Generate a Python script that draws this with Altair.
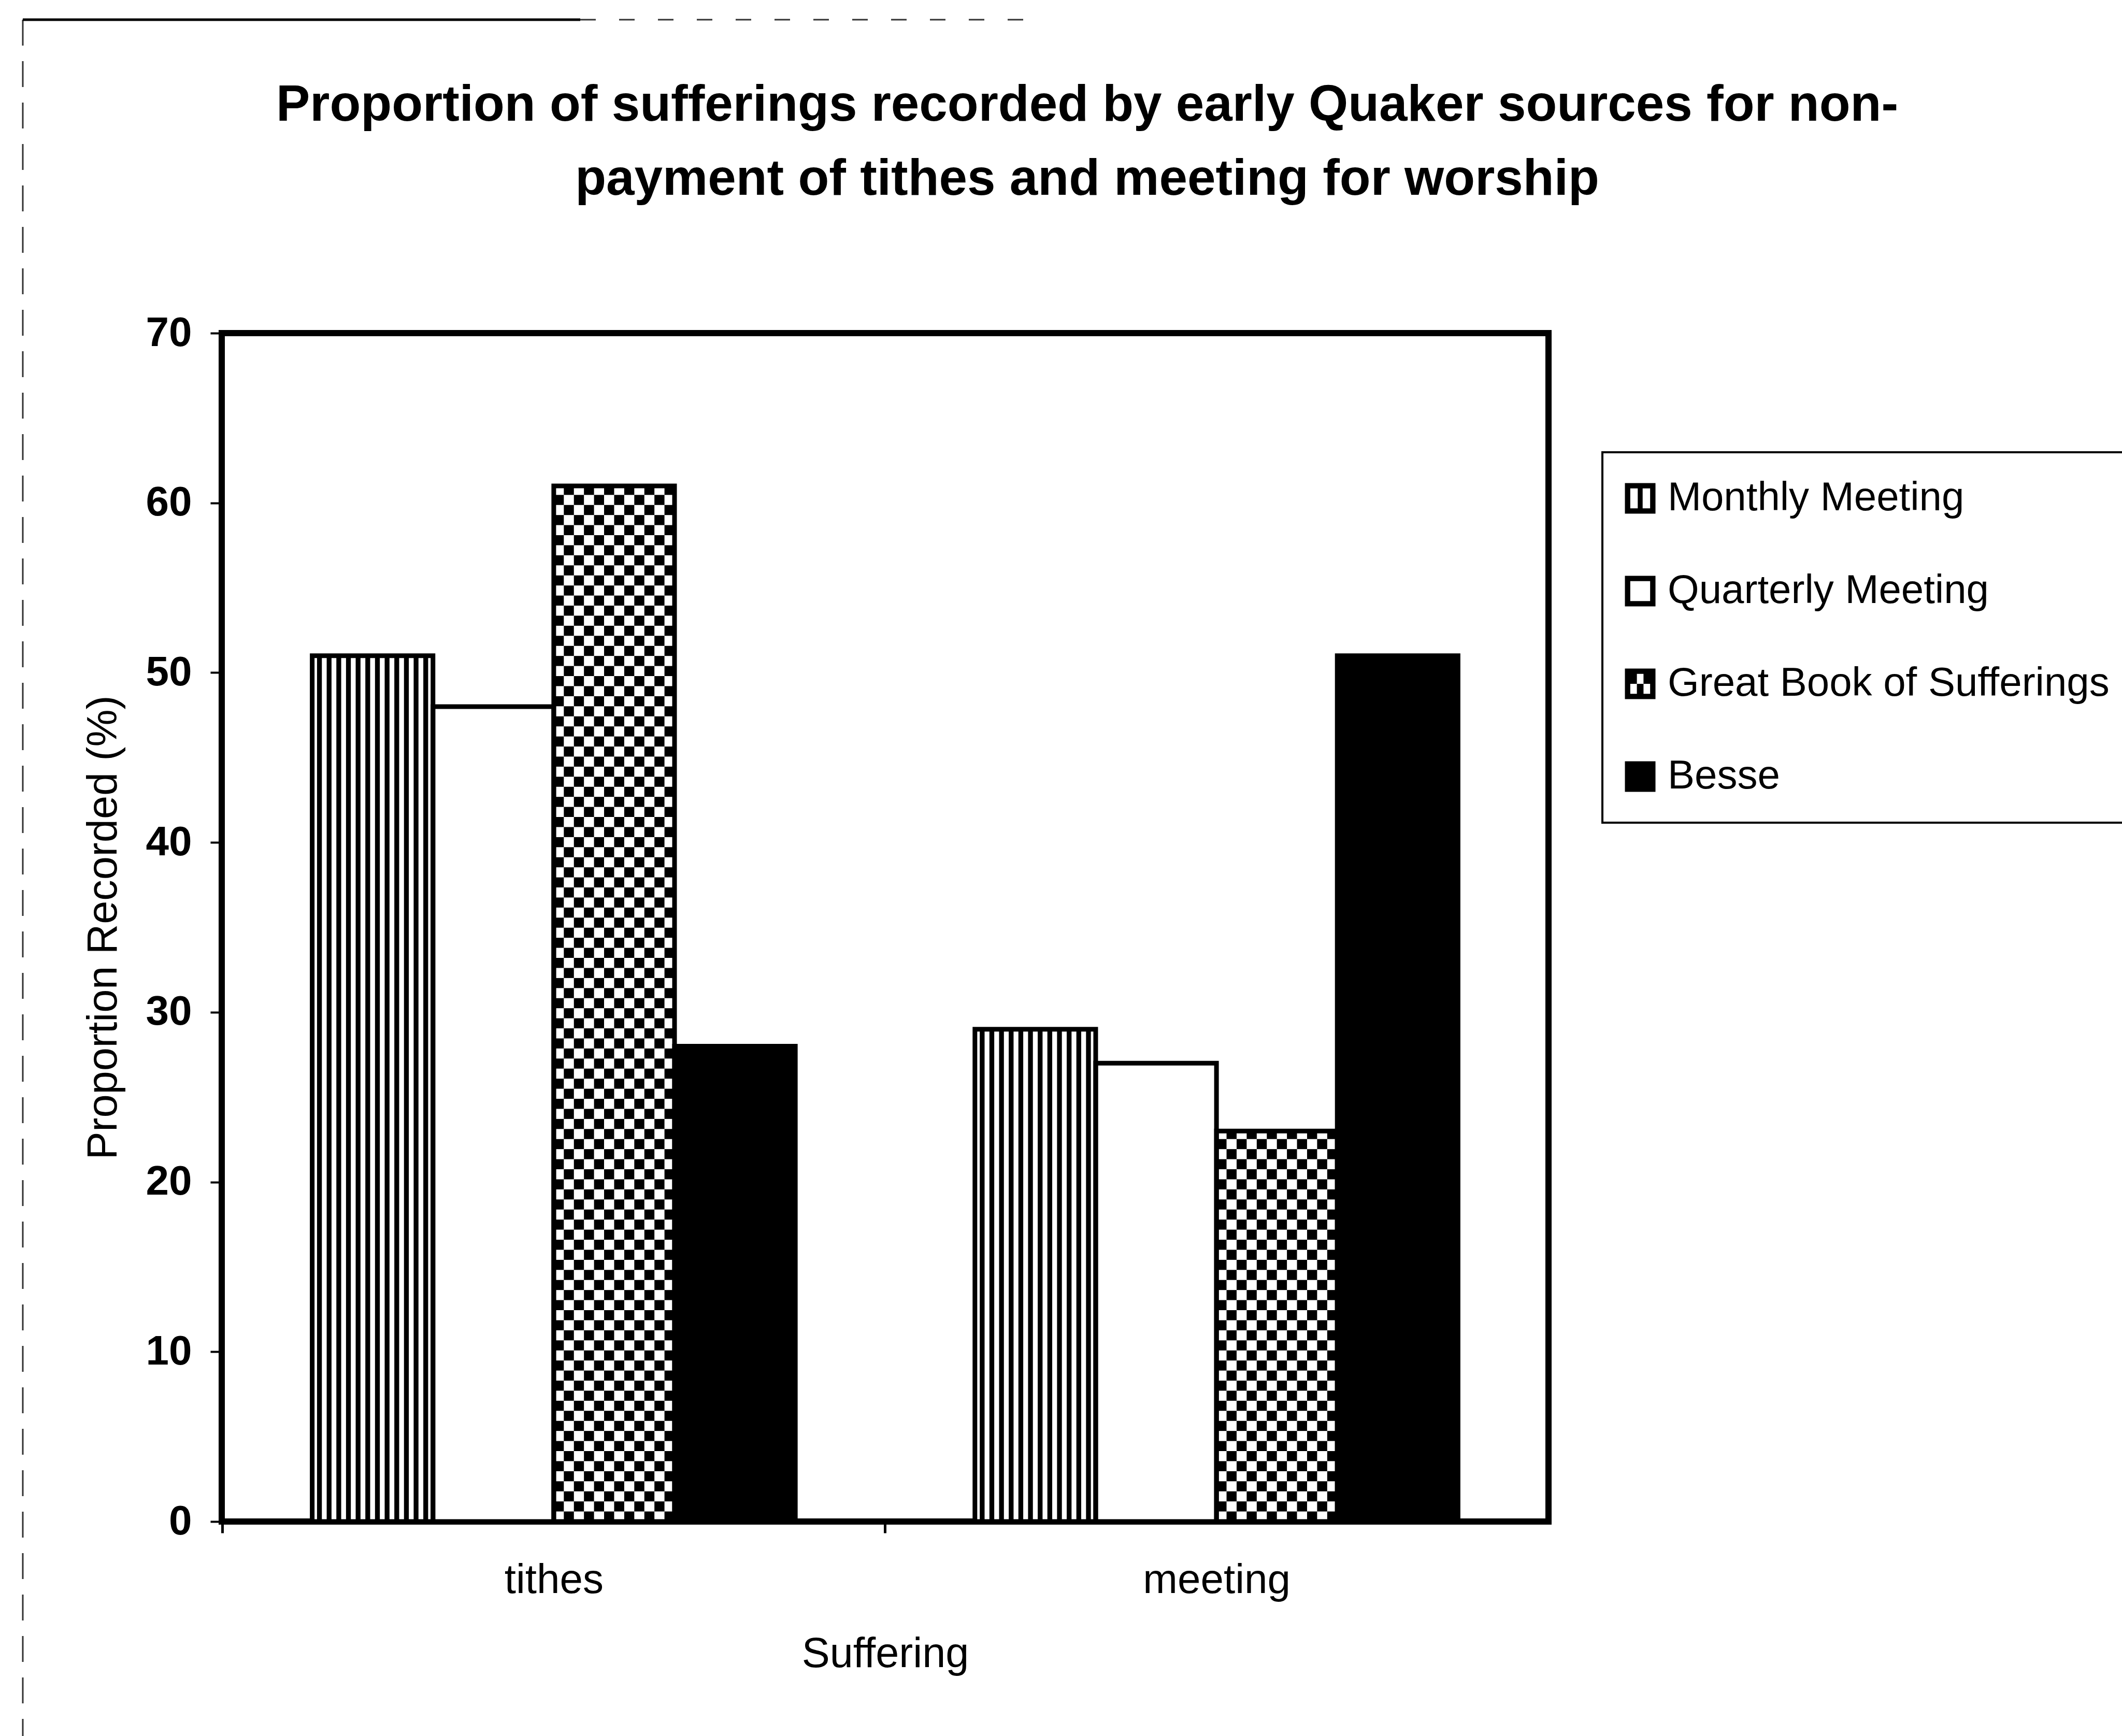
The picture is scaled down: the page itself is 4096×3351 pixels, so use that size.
import altair as alt
import pandas as pd

# ---------------- data ----------------
categories = ["tithes", "meeting"]
sources = ["Monthly Meeting", "Quarterly Meeting", "Great Book of Sufferings", "Besse"]
monthly = [51, 29]
quarterly = [48, 27]
great = [61, 23]
besse = [28, 51]
y_ticks = [0, 10, 20, 30, 40, 50, 60, 70]
title_lines = ["Proportion of sufferings recorded by early Quaker sources for non-",
               "payment of tithes and meeting for worship"]

# ---------------- layout ----------------
W, H = 2561, 2294
PAD = {"left": 428, "top": 643, "right": 4096 - 428 - W, "bottom": 3351 - 643 - H}
FONT = "Liberation Sans"
P_IN, P_OUT = 0.271, 0.1365
step_px = W / (2 - P_IN + 2 * P_OUT)
half_gap = P_IN * step_px / 2

series = {sources[0]: monthly, sources[1]: quarterly, sources[2]: great, sources[3]: besse}
bars = pd.DataFrame([{"Suffering": c, "Source": s, "Value": series[s][i]}
                     for i, c in enumerate(categories) for s in sources])

# pattern textures built from the series
STRIPE_COLS = 25
stripe_rows = []
for i, c in enumerate(categories):
    for k in range(1, STRIPE_COLS, 2):
        stripe_rows.append({"Suffering": c, "col": k, "Value": monthly[i]})
stripes = pd.DataFrame(stripe_rows)

CHK_COLS = 12
bar_px = step_px * (1 - P_IN) / 4
cell_px = bar_px / CHK_COLS
cell_u = cell_px * 70 / H
chk_rows = []
for i, c in enumerate(categories):
    v = great[i]
    r = 0
    while r * cell_u < v:
        y0 = r * cell_u
        y1 = min((r + 1) * cell_u, v)
        for cc in range(CHK_COLS):
            if (cc + r) % 2 == 1:
                chk_rows.append({"Suffering": c, "col": 2 * CHK_COLS + cc, "y": y0, "y2": y1})
        r += 1
checks = pd.DataFrame(chk_rows)

# ---------------- encodings ----------------
x_enc = alt.X("Suffering:N", sort=categories,
              scale=alt.Scale(domain=categories, paddingInner=P_IN, paddingOuter=P_OUT),
              axis=alt.Axis(title="Suffering", labelAngle=0, bandPosition=0,
                            tickOffset=-half_gap, labelOffset=half_gap,
                            domain=False, ticks=True, tickColor="black", tickWidth=5, tickSize=22,
                            labelFont=FONT, labelFontSize=80, labelColor="black", labelPadding=52,
                            labelLimit=1000,
                            titleFont=FONT, titleFontSize=81, titleFontWeight="normal",
                            titleColor="black", titlePadding=63))
y_axis = alt.Axis(title="Proportion Recorded (%)", values=y_ticks, grid=False, domain=False,
                  tickColor="black", tickWidth=4, tickSize=22,
                  labelFont=FONT, labelFontSize=80, labelFontWeight="bold", labelColor="black",
                  labelPadding=36,
                  titleFont=FONT, titleFontSize=81, titleFontWeight="normal", titleColor="black",
                  titlePadding=40)
y_scale = alt.Scale(domain=[0, 70], nice=False, zero=True)
xoff_src = alt.XOffset("Source:N", sort=sources,
                       scale=alt.Scale(domain=sources, paddingInner=0, paddingOuter=0))

# legend symbols: single closed outlines with holes reached through cuts
sym_paths = [
    "M -1 -1 H 1 V 1 H -1 V -0.65 H -0.65 V 0.65 H -0.16 V -0.65 H 0.16 V 0.65 "
    "H 0.65 V -0.65 H -1 Z",
    "M -1 -1 H 1 V 1 H -1 V -0.65 H -0.65 V 0.65 H 0.65 V -0.65 H -1 Z",
    "M -1 -1 H -0.2167 V -0.65 V 0 H 0.2167 V -0.65 H -0.2167 V -1 H 1 V 1 "
    "H 0.65 V 0.65 V 0 H 0.2167 V 0.65 H 0.65 V 1 "
    "H -0.2167 V 0.65 V 0 H -0.65 V 0.65 H -0.2167 V 1 H -1 Z",
    "M -1 -1 H 1 V 1 H -1 Z",
]
# legend carrier: points hidden underneath the opaque bar fills
legend_layer = alt.Chart(bars).mark_point(
    filled=True, size=3481, strokeWidth=0, opacity=1).encode(
    x=x_enc,
    y=alt.value(H - 300),
    shape=alt.Shape("Source:N", sort=sources,
                    scale=alt.Scale(domain=sources, range=sym_paths),
                    legend=alt.Legend(title=None, orient="none", legendX=2665, legendY=230,
                                      labelFont=FONT, labelFontSize=78, labelColor="black",
                                      labelLimit=3000, labelOffset=14, symbolOffset=-16,
                                      symbolSize=3481, symbolFillColor="black",
                                      symbolStrokeWidth=0, symbolOpacity=1,
                                      rowPadding=101, padding=50)),
    color=alt.value("black"),
)

# bar fills: white, Besse solid black (no colour scale, so the legend stays unmerged)
fill_layer = alt.Chart(bars).mark_bar(strokeWidth=0).encode(
    x=x_enc,
    xOffset=xoff_src,
    y=alt.Y("Value:Q", scale=y_scale, axis=y_axis),
    color=alt.condition(alt.datum.Source == sources[3], alt.value("black"), alt.value("white")),
)

stripe_layer = alt.Chart(stripes).mark_bar(color="black", strokeWidth=0).encode(
    x=x_enc,
    xOffset=alt.XOffset("col:O", scale=alt.Scale(domain=list(range(4 * STRIPE_COLS)),
                                                 paddingInner=0, paddingOuter=0)),
    y=alt.Y("Value:Q", scale=y_scale, axis=y_axis),
)

check_layer = alt.Chart(checks).mark_bar(color="black", strokeWidth=0).encode(
    x=x_enc,
    xOffset=alt.XOffset("col:O", scale=alt.Scale(domain=list(range(4 * CHK_COLS)),
                                                 paddingInner=0, paddingOuter=0)),
    y=alt.Y("y:Q", scale=y_scale, axis=y_axis),
    y2="y2:Q",
)

outline_layer = alt.Chart(bars).mark_bar(fillOpacity=0, stroke="black", strokeWidth=9).encode(
    x=x_enc,
    xOffset=xoff_src,
    y=alt.Y("Value:Q", scale=y_scale, axis=y_axis),
)

# faint outer chart frame of the scanned page
one = pd.DataFrame({"a": [0]})
frame_left = alt.Chart(one).mark_rule(color="#333333", strokeWidth=3, strokeDash=[50, 30]).encode(
    x=alt.value(-384), y=alt.value(-605), y2=alt.value(2708))
frame_top = alt.Chart(one).mark_rule(color="black", strokeWidth=5).encode(
    x=alt.value(-384), x2=alt.value(692), y=alt.value(-605))
frame_top2 = alt.Chart(one).mark_rule(color="#333333", strokeWidth=3, strokeDash=[30, 45]).encode(
    x=alt.value(692), x2=alt.value(1572), y=alt.value(-605))

chart = alt.layer(
    legend_layer, fill_layer, stripe_layer, check_layer, outline_layer,
    frame_left, frame_top, frame_top2,
).resolve_scale(xOffset="independent").properties(
    width=W, height=H,
    padding=PAD,
    autosize=alt.AutoSizeParams(type="none"),
    background="white",
    title=alt.TitleParams(text=title_lines, font=FONT, fontSize=98, fontWeight="bold",
                          color="black", anchor="middle", dx=390, lineHeight=143, offset=0,
                          baseline="alphabetic", dy=438),
).configure_view(stroke="black", strokeWidth=12).configure_legend(
    strokeColor="black", strokeWidth=4)

chart.save("out.html", embed_options={"renderer": "svg", "actions": False})
